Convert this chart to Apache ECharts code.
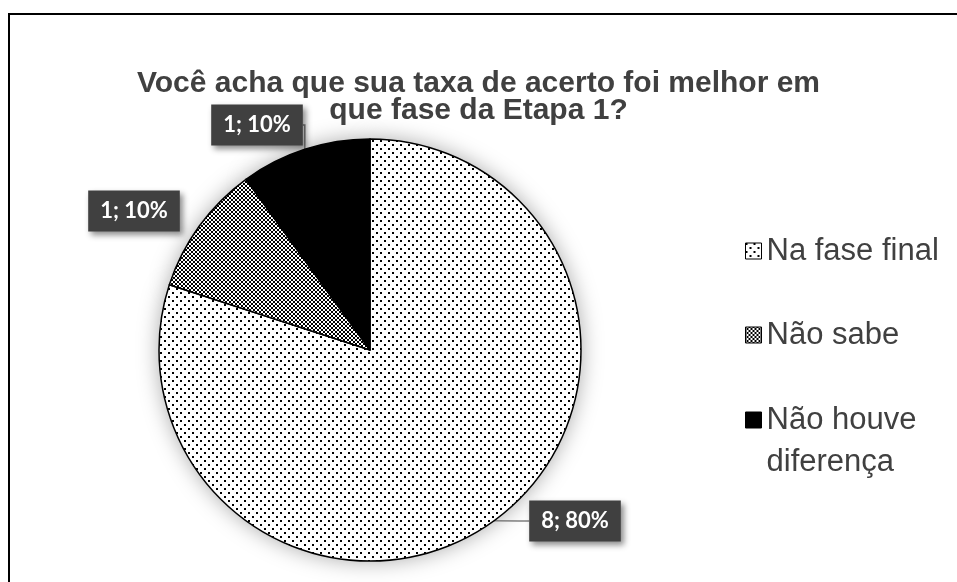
<!DOCTYPE html>
<html><head><meta charset="utf-8">
<script src="https://cdn.jsdelivr.net/npm/echarts@6/dist/echarts.min.js"></script>
<style>html,body{margin:0;padding:0;background:#fff}#c{width:957px;height:582px}</style>
</head><body><div id="c"></div>
<script>
const categories = ['Na fase final', 'Não sabe', 'Não houve diferença'];
const counts = [8, 1, 1];
const percents = [80, 10, 10];
const titleText = 'Você acha que sua taxa de acerto foi melhor em\nque fase da Etapa 1?';

function makeDots() {
  const c = document.createElement('canvas'); c.width = 8; c.height = 8;
  const g = c.getContext('2d');
  g.fillStyle = '#fff'; g.fillRect(0, 0, 8, 8);
  g.fillStyle = '#000'; g.fillRect(0, 0, 2, 2); g.fillRect(4, 4, 2, 2);
  return c;
}
function makeHatch() {
  const c = document.createElement('canvas'); c.width = 4; c.height = 4;
  const g = c.getContext('2d');
  g.fillStyle = '#fff'; g.fillRect(0, 0, 4, 4);
  g.fillStyle = '#000';
  for (let i = 0; i < 4; i++) { g.fillRect(i, i, 1, 1); g.fillRect(3 - i, i, 1, 1); }
  return c;
}
const fills = [
  { image: makeDots(), repeat: 'repeat' },
  { image: makeHatch(), repeat: 'repeat' },
  '#000'
];

const chart = echarts.init(document.getElementById('c'), null, { renderer: 'canvas' });
const labelCenters = [[575, 521], [134, 211], [257, 125]];
const legendTops = [228, 312, 352];

const option = {
  backgroundColor: '#fff',
  animation: false,
  title: {
    text: titleText,
    left: 'center',
    top: 65,
    textStyle: { fontFamily: 'Liberation Sans, Arial, sans-serif', fontSize: 30, fontWeight: 'bold', color: '#404040', lineHeight: 27 }
  },
  legend: categories.map((name, i) => ({
    orient: 'vertical',
    left: 740,
    top: legendTops[i],
    data: [name],
    icon: 'rect',
    itemWidth: 16,
    itemHeight: 16,
    selectedMode: false,
    formatter: n => (i === 2 ? '\n' : '') + n.replace('houve ', 'houve\n'),
    itemStyle: { borderColor: '#000', borderWidth: 1 },
    textStyle: {
      fontFamily: 'Liberation Sans, Arial, sans-serif', fontSize: 31, color: '#404040',
      lineHeight: i === 2 ? 42 : 36
    }
  })),
  graphic: [{
    type: 'rect', silent: true, z: 100,
    shape: { x: 9, y: 14, width: 1200, height: 1200 },
    style: { fill: 'none', stroke: '#000', lineWidth: 2 }
  }],
  series: [{
    type: 'pie',
    z: 3,
    center: [370, 350],
    radius: 211,
    startAngle: 90,
    clockwise: true,
    emphasis: { disabled: true },
    itemStyle: { borderColor: '#000', borderWidth: 1.5 },
    data: categories.map((n, i) => ({
      name: n, value: counts[i], itemStyle: { color: fills[i] },
      labelLine: { show: i !== 1 }
    })),
    label: {
      show: true,
      formatter: p => counts[p.dataIndex] + '; ' + percents[p.dataIndex] + '%',
      backgroundColor: '#404040',
      color: '#fff',
      fontFamily: 'Lato, sans-serif',
      fontWeight: 'bold',
      fontSize: 22,
      lineHeight: 25,
      padding: [8, 12],
      shadowBlur: 6, shadowOffsetX: 3, shadowOffsetY: 3, shadowColor: 'rgba(0,0,0,0.45)'
    },
    labelLine: { show: true, length: 10, length2: 10, lineStyle: { color: '#7f7f7f', width: 1.5 } },
    labelLayout: p => {
      const c = labelCenters[p.dataIndex];
      return { x: c[0], y: c[1], align: 'center', verticalAlign: 'middle' };
    }
  }, {
    type: 'pie',
    z: 1,
    silent: true,
    center: [370, 350],
    radius: 211,
    startAngle: 90,
    emphasis: { disabled: true },
    legendHoverLink: false,
    itemStyle: { color: '#fff', shadowBlur: 22, shadowColor: 'rgba(0,0,0,0.35)' },
    label: { show: false },
    labelLine: { show: false },
    data: categories.map((n, i) => ({ name: n, value: counts[i] }))
  }]
};
chart.setOption(option);
</script>
</body></html>
